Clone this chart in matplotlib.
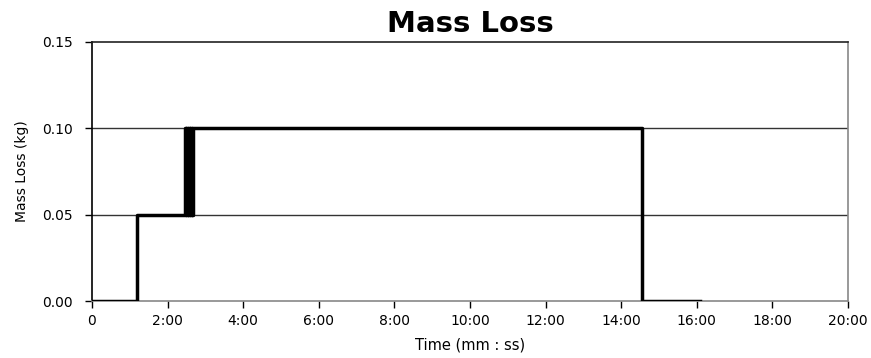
import matplotlib
matplotlib.use("agg")
import matplotlib.pyplot as plt
from matplotlib.ticker import FuncFormatter

plt.rcParams['font.family'] = ['DejaVu Sans']

# Mass loss readings (time in seconds, mass in kg)
time_s = [0, 71, 148, 149, 150, 151, 152, 153, 154, 155, 156, 157, 158, 159, 160, 873, 965]
mass_kg = [0.00, 0.05, 0.10, 0.05, 0.10, 0.05, 0.10, 0.05, 0.10, 0.05, 0.10, 0.05, 0.10, 0.05, 0.10, 0.00, 0.00]

x_ticks_min = [0, 2, 4, 6, 8, 10, 12, 14, 16, 18, 20]
y_ticks = [0.00, 0.05, 0.10, 0.15]

fig = plt.figure(figsize=(8.71, 3.58), dpi=100)
ax = fig.add_axes([0.1056, 0.159, 0.868, 0.724])

time_min = [t / 60 for t in time_s]
ax.plot(time_min, mass_kg, drawstyle='steps-post', color='black', linewidth=2.5, zorder=3)

ax.set_xlim(0, 20)
ax.set_ylim(0, 0.15)
ax.set_xticks(x_ticks_min)
ax.set_yticks(y_ticks)


def fmt_time(v, pos):
    if v == 0:
        return "0"
    m = int(v)
    s = int(round((v - m) * 60))
    return f"{m}:{s:02d}"


ax.xaxis.set_major_formatter(FuncFormatter(fmt_time))
ax.yaxis.set_major_formatter(FuncFormatter(lambda v, p: f"{v:.2f}"))

for yv in [0.05, 0.10]:
    ax.axhline(yv, color='#333333', linewidth=1, zorder=1)

ax.spines['left'].set_color('black')
ax.spines['top'].set_color('#222222')
ax.spines['right'].set_color('#888888')
ax.spines['bottom'].set_color('#888888')
for sp in ax.spines.values():
    sp.set_linewidth(1.2)

ax.tick_params(axis='both', direction='out', length=5, width=1, labelsize=10, colors='black')
ax.tick_params(axis='y', pad=9)
ax.tick_params(axis='x', pad=4)
ax.set_xlabel("Time (mm : ss)", fontsize=10.5, labelpad=7)
ax.set_ylabel("Mass Loss (kg)", fontsize=10, labelpad=9)
ax.set_title("Mass Loss", fontsize=21, fontweight='bold', pad=7)

plt.savefig("out.png", dpi=100)
